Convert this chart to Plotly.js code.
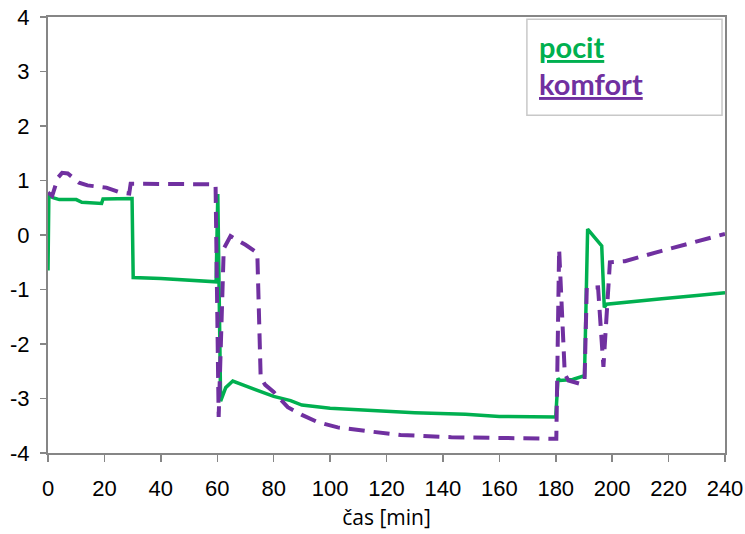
<!DOCTYPE html>
<html>
<head>
<meta charset="utf-8">
<script src="https://cdn.plot.ly/plotly-3.0.1.min.js"></script>
<style>html,body{margin:0;padding:0;background:#fff;}#chart{width:745px;height:534px;}</style>
</head>
<body>
<div id="chart"></div>
<script>
// Series names
var seriesNames = ["pocit", "komfort"];

// pocit (green, solid)
var pocitTime = [0, 0.3, 2, 4, 10, 12, 19, 19.5, 29.8, 30.2, 40, 50, 59.6, 60.2, 61.2, 63, 65.5, 70, 75, 80, 86, 90, 100, 117, 130, 148, 160, 180, 180.8, 181.5, 186, 190.2, 191.3, 196.3, 197.2, 198, 210, 217.6, 230, 240];
var pocitValue = [-0.65, 0.72, 0.68, 0.65, 0.65, 0.6, 0.58, 0.66, 0.67, -0.78, -0.8, -0.83, -0.86, 0.75, -3.05, -2.8, -2.68, -2.77, -2.87, -2.96, -3.04, -3.12, -3.18, -3.23, -3.26, -3.29, -3.33, -3.34, -2.63, -2.67, -2.65, -2.58, 0.11, -0.2, -1.33, -1.27, -1.2, -1.17, -1.11, -1.06];

// komfort (purple, dashed)
var komfortTime = [0, 1.5, 3.5, 5, 7, 11, 14, 20.7, 25.5, 28.8, 29.3, 59.4, 60.5, 62.3, 64.7, 70, 74.2, 75.4, 77, 80, 85, 90, 95.5, 102.7, 113.4, 125, 143, 166.6, 180.2, 181.2, 183.2, 184.5, 188.6, 190.2, 191, 195, 196.9, 199.2, 204.5, 217.6, 240];
var komfortValue = [0.78, 0.72, 1.05, 1.14, 1.13, 0.96, 0.91, 0.87, 0.78, 0.76, 0.94, 0.93, -3.34, -0.25, -0.02, -0.18, -0.33, -2.62, -2.75, -2.88, -3.16, -3.3, -3.43, -3.53, -3.6, -3.67, -3.71, -3.74, -3.74, -0.26, -2.55, -2.67, -2.73, -2.7, -0.97, -0.96, -2.42, -0.5, -0.48, -0.29, 0.02];

// Axis ticks
var xTickVals = [0, 20, 40, 60, 80, 100, 120, 140, 160, 180, 200, 220, 240];
var xTickText = ["0", "20", "40", "60", "80", "100", "120", "140", "160", "180", "200", "220", "240"];
var yTickVals = [-4, -3, -2, -1, 0, 1, 2, 3, 4];
var yTickText = ["-4", "-3", "-2", "-1", "0", "1", "2", "3", "4"];
var xTitle = "čas [min]";

var green = "#00B050";
var purple = "#7030A0";
var axisGray = "#868686";

var traces = [
  {x: pocitTime, y: pocitValue, type: "scatter", mode: "lines", name: seriesNames[0],
   line: {color: green, width: 3.5}, showlegend: false},
  {x: komfortTime, y: komfortValue, type: "scatter", mode: "lines", name: seriesNames[1],
   line: {color: purple, width: 4, dash: "16px,9px"}, showlegend: false}
];

var tickFont = {family: "Liberation Sans, Arial, sans-serif", size: 22, color: "#000"};

var layout = {
  width: 745, height: 534,
  margin: {l: 48, r: 20, t: 17, b: 81},
  paper_bgcolor: "#fff", plot_bgcolor: "#fff",
  xaxis: {
    range: [0, 240], tickmode: "array", tickvals: xTickVals, ticktext: xTickText,
    showgrid: false, zeroline: false, showline: true, mirror: true,
    linecolor: axisGray, linewidth: 2, ticks: "outside", ticklen: 7, tickwidth: 1.5, tickcolor: axisGray,
    tickfont: tickFont, ticklabelstandoff: 8,
    title: {text: xTitle, font: {family: "Open Sans, Noto Sans, sans-serif", size: 21, color: "#000"}, standoff: 10}
  },
  yaxis: {
    range: [-4, 4], tickmode: "array", tickvals: yTickVals, ticktext: yTickText,
    showgrid: false, zeroline: false, showline: true, mirror: true,
    linecolor: axisGray, linewidth: 2, ticks: "outside", ticklen: 6, tickwidth: 1.5, tickcolor: axisGray,
    tickfont: tickFont, ticklabelstandoff: 6
  },
  shapes: [
    {type: "rect", xref: "paper", yref: "paper", x0: 0.7074, x1: 0.9956, y0: 0.7745, y1: 0.9947,
     line: {color: "#c8c8c8", width: 1.5}, fillcolor: "rgba(255,255,255,0)"}
  ],
  annotations: [
    {xref: "paper", yref: "paper", x: 0.7230, y: 0.932, xanchor: "left", yanchor: "middle", showarrow: false,
     text: "<b><u>" + seriesNames[0] + "</u></b>", font: {family: "Lato, sans-serif", size: 29, color: green}},
    {xref: "paper", yref: "paper", x: 0.7230, y: 0.847, xanchor: "left", yanchor: "middle", showarrow: false,
     text: "<b><u>" + seriesNames[1] + "</u></b>", font: {family: "Lato, sans-serif", size: 29, color: purple}}
  ]
};

Plotly.newPlot("chart", traces, layout, {displayModeBar: false, staticPlot: true});
</script>
</body>
</html>
